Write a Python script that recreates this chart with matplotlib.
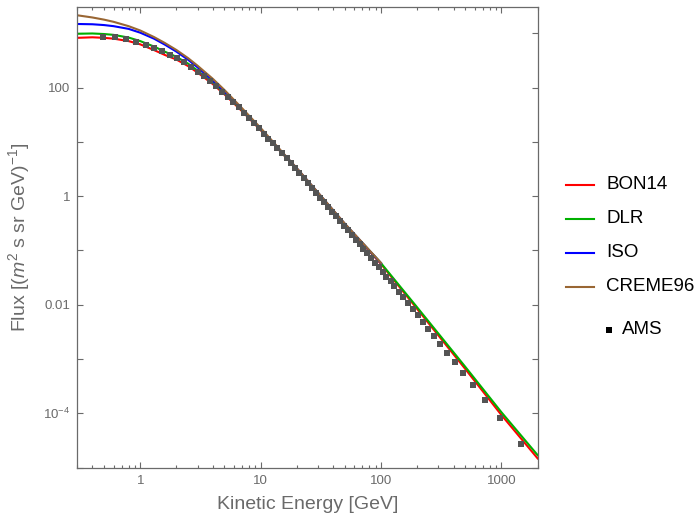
import numpy as np
import matplotlib
matplotlib.use("Agg")
import matplotlib.pyplot as plt
from matplotlib.lines import Line2D
from matplotlib.ticker import FixedLocator, NullFormatter

plt.rcParams['font.family'] = ['Liberation Sans', 'DejaVu Sans']
plt.rcParams['mathtext.fontset'] = 'custom'
plt.rcParams['mathtext.rm'] = 'Liberation Sans'
plt.rcParams['mathtext.it'] = 'Liberation Sans:italic'

# model curves (kinetic energy grid, GeV)
energy_model = [0.3, 0.4, 0.5, 0.6, 0.8, 1, 1.3, 1.6, 2, 2.5, 3, 4, 5, 7, 10,
                15, 20, 30, 50, 100, 200, 500, 1000, 2000]

flux_bon14 = [822, 841, 822, 794, 716, 624, 490, 398, 327, 248, 188, 116, 75.0,
              36.7, 16.4, 6.24, 3.13, 1.12, 0.302, 0.0562, 0.00832, 6.61e-4,
              9.33e-5, 1.48e-5]
flux_dlr = [977, 989, 966, 933, 832, 716, 569, 457, 367, 275, 204, 123, 78.5,
            38.0, 16.8, 6.31, 3.16, 1.14, 0.305, 0.0582, 0.00891, 7.24e-4,
            1.05e-4, 1.70e-5]
# ISO and CREME96 only up to 100 GeV
flux_iso = [1479, 1462, 1413, 1349, 1202, 1023, 794, 617, 457, 324, 234, 135,
            85.1, 39.8, 17.4, 6.46, 3.24, 1.15, 0.309, 0.0582]
flux_creme96 = [2138, 1950, 1778, 1622, 1349, 1122, 851, 661, 490, 347, 251, 145,
                90.2, 41.7, 18.0, 6.61, 3.27, 1.16, 0.313, 0.0589]

# AMS data points
energy_ams = [0.49, 0.62, 0.76, 0.93, 1.11, 1.30, 1.52, 1.77, 2.03, 2.33, 2.65,
              3.01, 3.39, 3.81, 4.27, 4.78, 5.32, 5.91, 6.55, 7.24, 7.98, 8.79,
              9.65, 10.6, 11.6, 12.6, 13.8, 15.0, 16.4, 17.8, 19.4, 21.0, 22.8,
              24.8, 26.8, 29.0, 31.4, 33.9, 36.6, 39.5, 42.6, 45.9, 49.4, 53.2,
              57.3, 61.6, 66.3, 71.4, 76.8, 82.6, 88.8, 95.6, 103, 111, 120, 129,
              140, 153, 167, 183, 201, 221, 245, 274, 310, 354, 409, 482, 583,
              732, 975, 1460]
flux_ams = [855, 853, 771, 684, 605, 524, 468, 405, 344, 289, 239, 196, 161, 130,
            105, 84, 67.3, 53.7, 43.0, 34.4, 27.7, 22.1, 17.7, 14.2, 11.5, 9.33,
            7.55, 6.12, 4.98, 4.06, 3.31, 2.68, 2.17, 1.75, 1.42, 1.16, 0.944,
            0.773, 0.631, 0.516, 0.423, 0.347, 0.285, 0.234, 0.193, 0.158, 0.130,
            0.107, 0.0883, 0.0726, 0.0598, 0.0492, 0.0402, 0.0329, 0.0270,
            0.0220, 0.0175, 0.0137, 0.0107, 0.00828, 0.00635, 0.00484, 0.00363,
            0.00265, 0.00189, 0.00131, 8.81e-4, 5.60e-4, 3.32e-4, 1.80e-4,
            8.2e-5, 2.7e-5]

labels = ["BON14", "DLR", "ISO", "CREME96"]
colors = ["#ff0000", "#00b000", "#0000ff", "#996633"]

gray = "#6a6a6a"

fig = plt.figure(figsize=(6.99, 5.18), dpi=100)
ax = fig.add_axes([0.1106, 0.0971, 0.6586, 0.8888])

n = len(flux_iso)
ax.plot(energy_model, flux_bon14, color=colors[0], lw=1.5)
ax.plot(energy_model, flux_dlr, color=colors[1], lw=1.5)
ax.plot(energy_model[:n], flux_iso, color=colors[2], lw=1.5)
ax.plot(energy_model[:n], flux_creme96, color=colors[3], lw=1.5)
ax.plot(energy_ams, flux_ams, 's', color="#545454", ms=4.5, mew=0, zorder=5)

ax.set_xscale("log")
ax.set_yscale("log")
ax.set_xlim(0.3, 2000)
ax.set_ylim(1e-5, 3000)

ax.xaxis.set_major_locator(FixedLocator([1, 10, 100, 1000]))
ax.set_xticklabels(["1", "10", "100", "1000"])
minors = [m * 10.0 ** k for k in range(-1, 4) for m in range(2, 10)]
ax.xaxis.set_minor_locator(FixedLocator(minors))
ax.xaxis.set_minor_formatter(NullFormatter())

yt = [10.0 ** k for k in range(-5, 4)]
ylab = ["", r"$10^{-4}$", "", "0.01", "", "1", "", "100", ""]
ax.yaxis.set_major_locator(FixedLocator(yt))
ax.set_yticklabels(ylab)
ax.yaxis.set_minor_locator(FixedLocator([]))

ax.tick_params(which="both", direction="in", top=True, right=True,
               color=gray, labelcolor=gray, labelsize=9.5)
ax.tick_params(which="major", length=4, width=0.8, pad=5)
ax.tick_params(which="minor", length=2.5, width=0.8)
for s in ax.spines.values():
    s.set_color(gray)
    s.set_linewidth(0.9)

ax.set_xlabel("Kinetic Energy [GeV]", color=gray, fontsize=14, labelpad=7)
ax.set_ylabel(r"Flux [($m^2$ s sr GeV)$^{-1}$]", color=gray, fontsize=14, labelpad=8)

# legend drawn by hand to the right of the frame
W, H = 699.0, 518.0
leg_y = [184.7, 218.7, 252.7, 286.7]
for lab, c, yy in zip(labels, colors, leg_y):
    fig.add_artist(Line2D([565.7 / W, 594 / W], [1 - yy / H, 1 - yy / H],
                          color=c, lw=1.5, transform=fig.transFigure))
    fig.text(606 / W, 1 - yy / H, lab, fontsize=13.5, va="center", ha="left")
fig.add_artist(Line2D([609 / W], [1 - 330 / H], marker="s", color="black",
                      ms=4, mew=0, transform=fig.transFigure))
fig.text(621.7 / W, 1 - 330 / H, "AMS", fontsize=13.5, va="center", ha="left")

fig.savefig("out.png", dpi=100)
